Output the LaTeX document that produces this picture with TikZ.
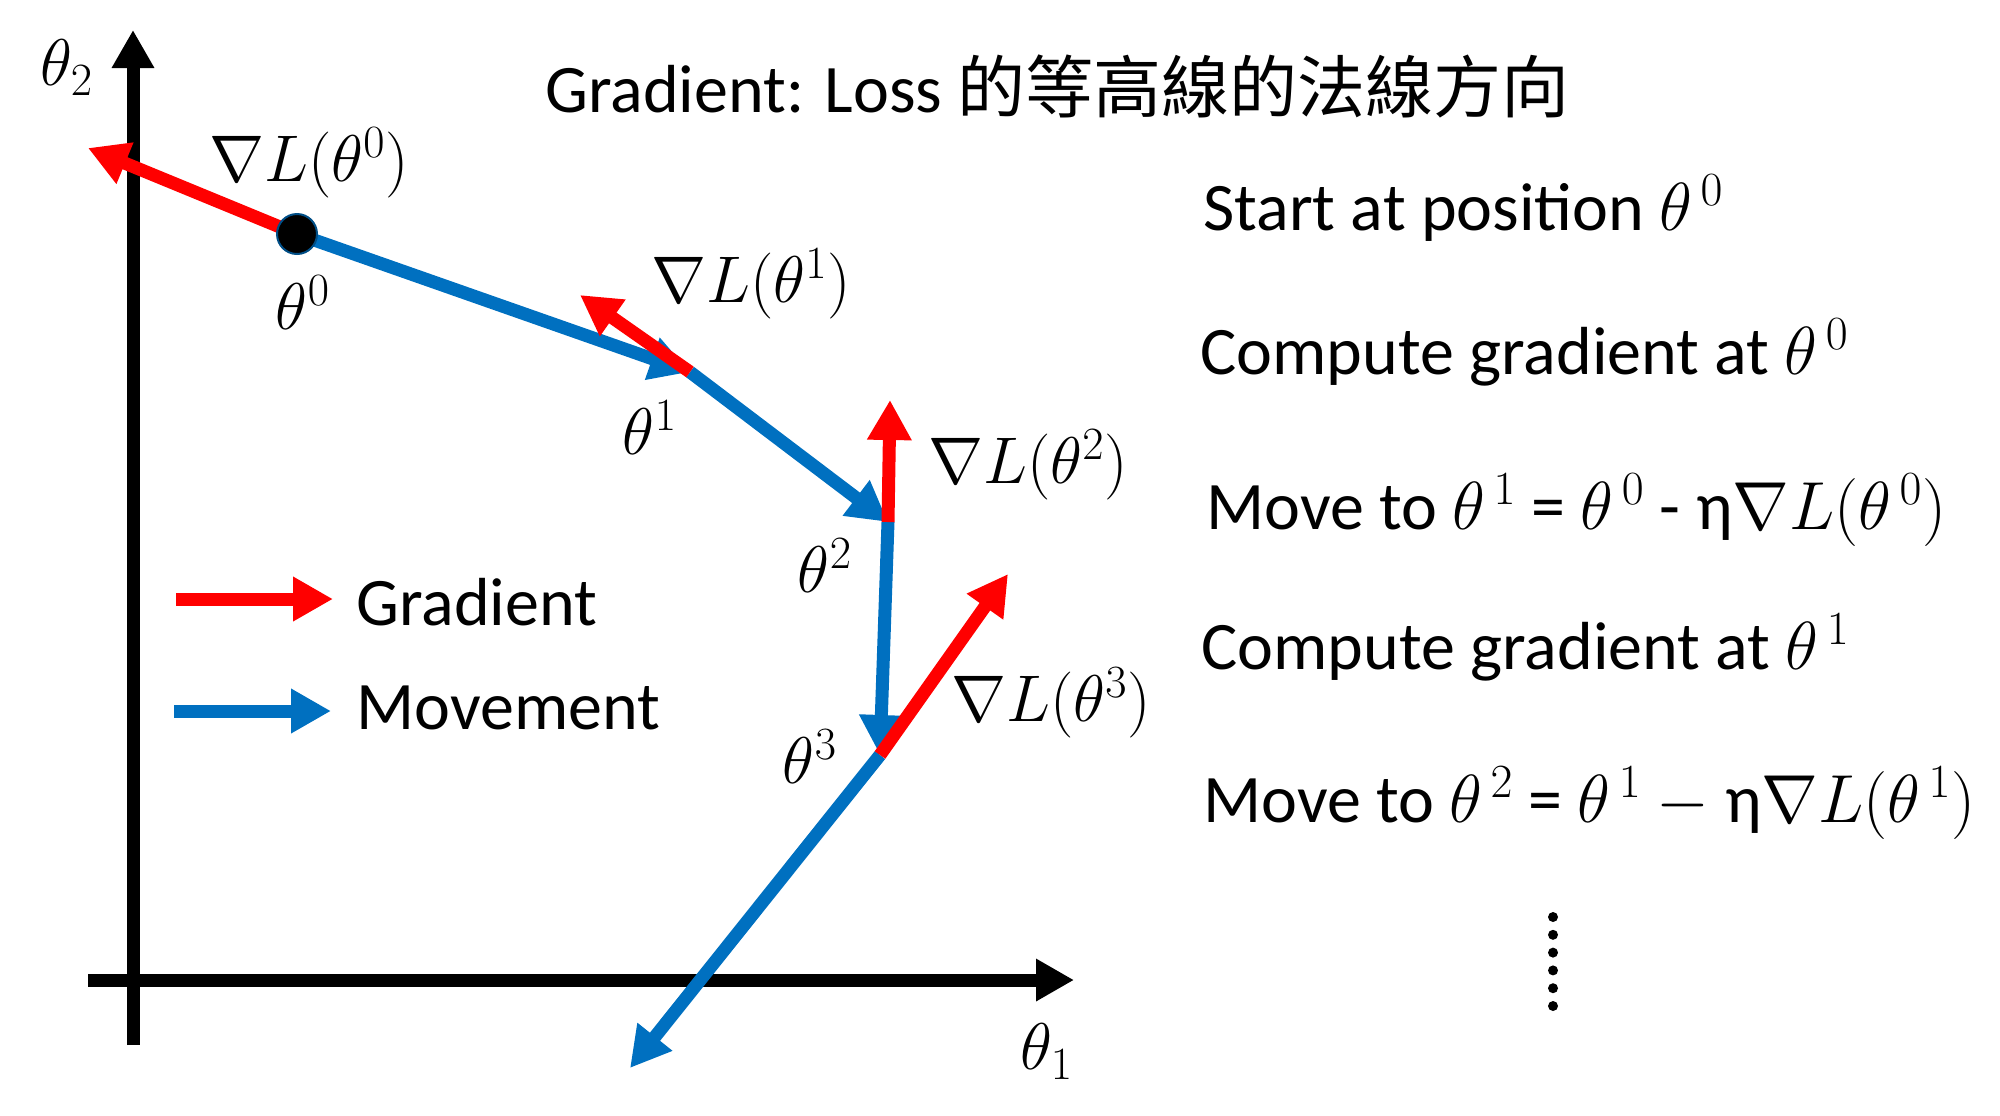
\RequirePackage{fix-cm}
\documentclass[tikz,border=0pt]{standalone}
\usepackage{fontspec}
\setmainfont{Carlito}
\newfontfamily\cjk{Noto Sans CJK TC}
\usetikzlibrary{arrows.meta}
\definecolor{gradred}{HTML}{FF0000}
\definecolor{moveblue}{HTML}{0070C0}
\begin{document}
\begin{tikzpicture}[x=0.5pt,y=-0.5pt,
  axisarrow/.style={draw=black,line width=6.5pt,-{Triangle[length=19pt,width=20pt]}},
  gradarrow/.style={draw=gradred,line width=6.5pt,-{Triangle[length=20pt,width=21pt]}},
  movearrow/.style={draw=moveblue,line width=6.5pt,-{Triangle[length=20pt,width=21pt]}},
  mlabel/.style={inner sep=0pt,font=\fontsize{33}{40}\selectfont},
  txt/.style={inner sep=0pt,anchor=base west,font=\fontsize{34}{41}\selectfont},
]
\useasboundingbox (0,0) rectangle (2000,1115);
% axes
\coordinate (ybot) at (133,1045);
\coordinate (ytop) at (133,30);
\coordinate (xleft) at (88,980);
\coordinate (xright) at (1074,980);
\draw[axisarrow] (ybot) -- (ytop);
\draw[axisarrow] (xleft) -- (xright);
\node[mlabel] (lth2) at (67,68) {$\theta_2$};
\node[mlabel] (lth1) at (1047,1052) {$\theta_1$};
% points
\coordinate (t0) at (297,234);
\coordinate (g0) at (88,148);
\coordinate (t1) at (690,372);
\coordinate (g1) at (580,295);
\coordinate (t2) at (888,522);
\coordinate (g2) at (890,400);
\coordinate (t3) at (880,755);
\coordinate (g3) at (1008,574);
\coordinate (t4) at (630,1068);
% movement
\draw[movearrow] (t0) -- (t1);
\draw[movearrow] (t1) -- (t2);
\draw[movearrow] (t2) -- (t3);
\draw[movearrow] (t3) -- (t4);
% gradients
\draw[gradarrow] (t0) -- (g0);
\draw[gradarrow] (t1) -- (g1);
\draw[gradarrow] (t2) -- (g2);
\draw[gradarrow] (t3) -- (g3);
\node[circle,fill=black,draw=moveblue!70!black,line width=1pt,minimum size=20pt,inner sep=0pt] (p0) at (t0) {};
% labels
\node[mlabel] (ngl0) at (309,163) {$\nabla L(\theta^0)$};
\node[mlabel] (nth0) at (303,303) {$\theta^0$};
\node[mlabel] (ngl1) at (751,284) {$\nabla L(\theta^1)$};
\node[mlabel] (nth1) at (650,428) {$\theta^1$};
\node[mlabel] (ngl2) at (1028,465) {$\nabla L(\theta^2)$};
\node[mlabel] (nth2) at (825,566) {$\theta^2$};
\node[mlabel] (ngl3) at (1051,703) {$\nabla L(\theta^3)$};
\node[mlabel] (nth3) at (810,757) {$\theta^3$};
% legend
\coordinate (lg1s) at (176,599);
\coordinate (lg1e) at (333,599);
\coordinate (lg2s) at (174,711);
\coordinate (lg2e) at (331,711);
\draw[gradarrow] (lg1s) -- (lg1e);
\draw[movearrow] (lg2s) -- (lg2e);
\node[txt] (lgt1) at (356,625) {Gradient};
\node[txt] (lgt2) at (356,729) {Movement};
% title
\node[txt] (title) at (545,112) {Gradient: Loss {\cjk 的等高線的法線方向}};
% steps
\node[txt] (s1) at (1203,230) {Start at position $\theta^{\,0}$};
\node[txt] (s2) at (1200,374) {Compute gradient at $\theta^{\,0}$};
\node[txt] (s3) at (1206,529) {Move to $\theta^{\,1}$ = $\theta^{\,0}$ - η$\nabla L(\theta^{\,0})$};
\node[txt] (s4) at (1201,669) {Compute gradient at $\theta^{\,1}$};
\node[txt] (s5) at (1203,822) {Move to $\theta^{\,2}$ = $\theta^{\,1}$ $-$ η$\nabla L(\theta^{\,1})$};
\coordinate (dtop) at (1553,917);
\coordinate (dbot) at (1553,1006);
\draw[line width=5pt,line cap=round,dash pattern=on 0pt off 8.9pt] (dtop) -- (dbot);
\end{tikzpicture}
\end{document}
